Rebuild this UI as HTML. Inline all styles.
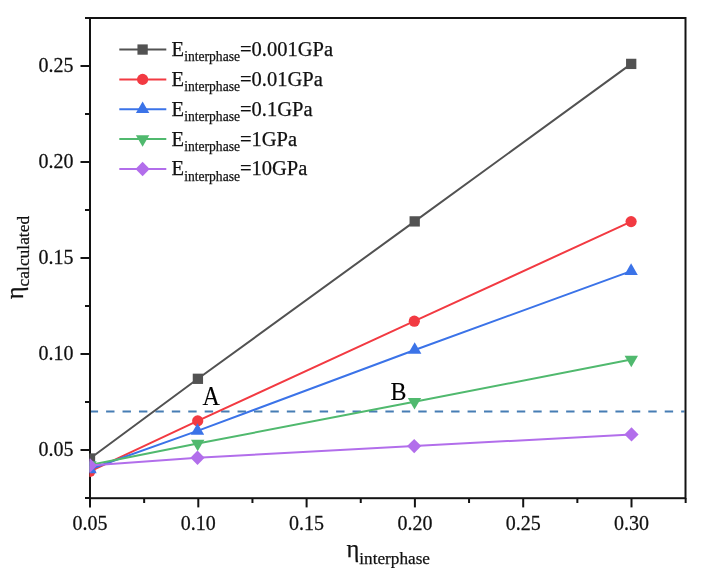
<!DOCTYPE html>
<html><head><meta charset="utf-8"><title>chart</title>
<style>
html,body{margin:0;padding:0;background:#fff;width:707px;height:575px;overflow:hidden}
svg{display:block;filter:blur(0.45px)}
text{font-family:"Liberation Serif","Times New Roman",serif;fill:#111;stroke:#111;stroke-width:0.25px}
.tk{font-size:20px}
.lg{font-size:20.5px}
.lsub{font-size:13.6px}
.ab{font-size:24px;fill:#000;stroke:#000;stroke-width:0.1px}
.at{font-size:24.5px}
.asub{font-size:17.4px}
.xs{font-size:17.2px}
</style></head><body>
<svg width="707" height="575" viewBox="0 0 707 575">
<defs><clipPath id="pc"><rect x="89.4" y="18.0" width="596.1" height="480.2"/></clipPath></defs>
<line x1="89.67" y1="411.4" x2="684.5" y2="411.4" stroke="#467db4" stroke-width="2" stroke-dasharray="8.4 8.03"/>
<rect x="90.0" y="18.0" width="595.5" height="480.2" fill="none" stroke="#131313" stroke-width="2"/>
<text transform="translate(73.6,456.30) scale(1,1.06)" text-anchor="end" class="tk">0.05</text>
<text transform="translate(73.6,360.30) scale(1,1.06)" text-anchor="end" class="tk">0.10</text>
<text transform="translate(73.6,264.30) scale(1,1.06)" text-anchor="end" class="tk">0.15</text>
<text transform="translate(73.6,168.30) scale(1,1.06)" text-anchor="end" class="tk">0.20</text>
<text transform="translate(73.6,72.30) scale(1,1.06)" text-anchor="end" class="tk">0.25</text>
<text transform="translate(90.00,529.6) scale(1,1.06)" text-anchor="middle" class="tk">0.05</text>
<text transform="translate(198.30,529.6) scale(1,1.06)" text-anchor="middle" class="tk">0.10</text>
<text transform="translate(306.60,529.6) scale(1,1.06)" text-anchor="middle" class="tk">0.15</text>
<text transform="translate(414.90,529.6) scale(1,1.06)" text-anchor="middle" class="tk">0.20</text>
<text transform="translate(523.20,529.6) scale(1,1.06)" text-anchor="middle" class="tk">0.25</text>
<text transform="translate(631.50,529.6) scale(1,1.06)" text-anchor="middle" class="tk">0.30</text>
<line x1="85.0" y1="498.00" x2="90.0" y2="498.00" stroke="#131313" stroke-width="2"/>
<line x1="80.5" y1="450.00" x2="90.0" y2="450.00" stroke="#131313" stroke-width="2"/>
<line x1="85.0" y1="402.00" x2="90.0" y2="402.00" stroke="#131313" stroke-width="2"/>
<line x1="80.5" y1="354.00" x2="90.0" y2="354.00" stroke="#131313" stroke-width="2"/>
<line x1="85.0" y1="306.00" x2="90.0" y2="306.00" stroke="#131313" stroke-width="2"/>
<line x1="80.5" y1="258.00" x2="90.0" y2="258.00" stroke="#131313" stroke-width="2"/>
<line x1="85.0" y1="210.00" x2="90.0" y2="210.00" stroke="#131313" stroke-width="2"/>
<line x1="80.5" y1="162.00" x2="90.0" y2="162.00" stroke="#131313" stroke-width="2"/>
<line x1="85.0" y1="114.00" x2="90.0" y2="114.00" stroke="#131313" stroke-width="2"/>
<line x1="80.5" y1="66.00" x2="90.0" y2="66.00" stroke="#131313" stroke-width="2"/>
<line x1="85.0" y1="18.00" x2="90.0" y2="18.00" stroke="#131313" stroke-width="2"/>
<line x1="90.00" y1="498.2" x2="90.00" y2="507.4" stroke="#131313" stroke-width="2"/>
<line x1="144.15" y1="498.2" x2="144.15" y2="503.0" stroke="#131313" stroke-width="2"/>
<line x1="198.30" y1="498.2" x2="198.30" y2="507.4" stroke="#131313" stroke-width="2"/>
<line x1="252.45" y1="498.2" x2="252.45" y2="503.0" stroke="#131313" stroke-width="2"/>
<line x1="306.60" y1="498.2" x2="306.60" y2="507.4" stroke="#131313" stroke-width="2"/>
<line x1="360.75" y1="498.2" x2="360.75" y2="503.0" stroke="#131313" stroke-width="2"/>
<line x1="414.90" y1="498.2" x2="414.90" y2="507.4" stroke="#131313" stroke-width="2"/>
<line x1="469.05" y1="498.2" x2="469.05" y2="503.0" stroke="#131313" stroke-width="2"/>
<line x1="523.20" y1="498.2" x2="523.20" y2="507.4" stroke="#131313" stroke-width="2"/>
<line x1="577.35" y1="498.2" x2="577.35" y2="503.0" stroke="#131313" stroke-width="2"/>
<line x1="631.50" y1="498.2" x2="631.50" y2="507.4" stroke="#131313" stroke-width="2"/>
<line x1="685.65" y1="498.2" x2="685.65" y2="503.0" stroke="#131313" stroke-width="2"/>
<g clip-path="url(#pc)">
<polyline points="90.00,458.50 197.90,378.80 414.70,221.40 631.20,63.90" fill="none" stroke="#525252" stroke-width="2"/>
<rect x="84.85" y="453.35" width="10.3" height="10.3" fill="#525252"/>
<rect x="192.75" y="373.65" width="10.3" height="10.3" fill="#525252"/>
<rect x="409.55" y="216.25" width="10.3" height="10.3" fill="#525252"/>
<rect x="626.05" y="58.75" width="10.3" height="10.3" fill="#525252"/>
<polyline points="90.00,471.30 197.70,420.90 414.30,321.20 631.10,221.60" fill="none" stroke="#f23a42" stroke-width="2"/>
<circle cx="90.00" cy="471.30" r="5.6" fill="#f23a42"/>
<circle cx="197.70" cy="420.90" r="5.6" fill="#f23a42"/>
<circle cx="414.30" cy="321.20" r="5.6" fill="#f23a42"/>
<circle cx="631.10" cy="221.60" r="5.6" fill="#f23a42"/>
<polyline points="90.00,469.30 197.50,430.90 414.70,350.00 631.10,271.10" fill="none" stroke="#3b73e8" stroke-width="2"/>
<polygon points="90.00,461.57 96.70,473.17 83.30,473.17" fill="#3b73e8"/>
<polygon points="197.50,423.17 204.20,434.77 190.80,434.77" fill="#3b73e8"/>
<polygon points="414.70,342.27 421.40,353.87 408.00,353.87" fill="#3b73e8"/>
<polygon points="631.10,263.37 637.80,274.97 624.40,274.97" fill="#3b73e8"/>
<polyline points="90.00,465.00 197.70,443.50 414.50,401.80 631.30,359.50" fill="none" stroke="#50b96e" stroke-width="2"/>
<polygon points="90.00,472.73 96.70,461.13 83.30,461.13" fill="#50b96e"/>
<polygon points="197.70,451.23 204.40,439.63 191.00,439.63" fill="#50b96e"/>
<polygon points="414.50,409.53 421.20,397.93 407.80,397.93" fill="#50b96e"/>
<polygon points="631.30,367.23 638.00,355.63 624.60,355.63" fill="#50b96e"/>
<polyline points="90.00,465.50 197.50,457.70 414.20,446.10 631.50,434.40" fill="none" stroke="#b26eeb" stroke-width="2"/>
<polygon points="90.00,458.30 97.10,465.50 90.00,472.70 82.90,465.50" fill="#b26eeb"/>
<polygon points="197.50,450.50 204.60,457.70 197.50,464.90 190.40,457.70" fill="#b26eeb"/>
<polygon points="414.20,438.90 421.30,446.10 414.20,453.30 407.10,446.10" fill="#b26eeb"/>
<polygon points="631.50,427.20 638.60,434.40 631.50,441.60 624.40,434.40" fill="#b26eeb"/>
</g>
<line x1="119.3" y1="49.55" x2="166.3" y2="49.55" stroke="#525252" stroke-width="2"/>
<rect x="137.45" y="44.40" width="10.3" height="10.3" fill="#525252"/>
<text x="171.6" y="56.05" class="lg">E<tspan class="lsub" dy="5.4">interphase</tspan><tspan dy="-5.4">=0.001GPa</tspan></text>
<line x1="119.3" y1="79.40" x2="166.3" y2="79.40" stroke="#f23a42" stroke-width="2"/>
<circle cx="142.60" cy="79.40" r="5.6" fill="#f23a42"/>
<text x="171.6" y="85.90" class="lg">E<tspan class="lsub" dy="5.4">interphase</tspan><tspan dy="-5.4">=0.01GPa</tspan></text>
<line x1="119.3" y1="109.25" x2="166.3" y2="109.25" stroke="#3b73e8" stroke-width="2"/>
<polygon points="142.60,101.52 149.30,113.12 135.90,113.12" fill="#3b73e8"/>
<text x="171.6" y="115.75" class="lg">E<tspan class="lsub" dy="5.4">interphase</tspan><tspan dy="-5.4">=0.1GPa</tspan></text>
<line x1="119.3" y1="139.10" x2="166.3" y2="139.10" stroke="#50b96e" stroke-width="2"/>
<polygon points="142.60,146.83 149.30,135.23 135.90,135.23" fill="#50b96e"/>
<text x="171.6" y="145.60" class="lg">E<tspan class="lsub" dy="5.4">interphase</tspan><tspan dy="-5.4">=1GPa</tspan></text>
<line x1="119.3" y1="168.95" x2="166.3" y2="168.95" stroke="#b26eeb" stroke-width="2"/>
<polygon points="142.60,161.75 149.70,168.95 142.60,176.15 135.50,168.95" fill="#b26eeb"/>
<text x="171.6" y="175.45" class="lg">E<tspan class="lsub" dy="5.4">interphase</tspan><tspan dy="-5.4">=10GPa</tspan></text>
<text transform="translate(202.4,405.2) scale(1,1.14)" class="ab">A</text>
<text transform="translate(390.6,400.3) scale(1,1.07)" class="ab">B</text>
<text x="346.5" y="557.3" class="at">η<tspan class="asub xs" dy="6.3">interphase</tspan></text>
<text transform="translate(23.3,299.2) rotate(-90)" class="at">η<tspan class="asub" dy="6">calculated</tspan></text>
</svg>
</body></html>
